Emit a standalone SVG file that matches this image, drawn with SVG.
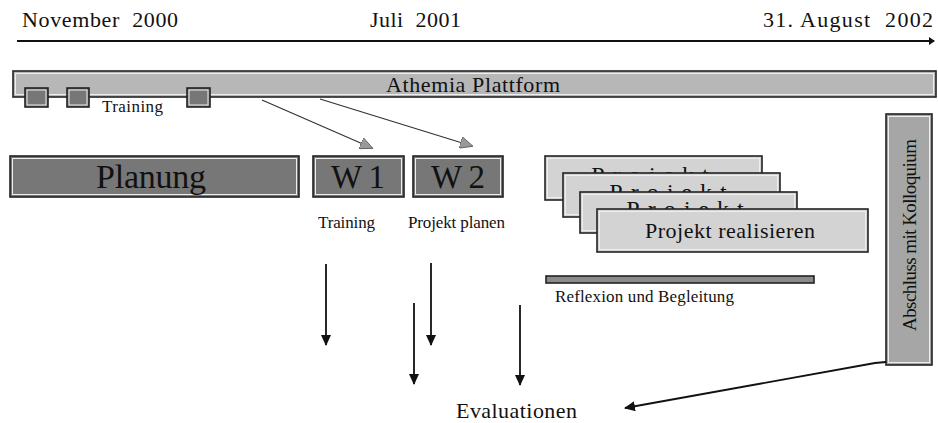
<svg xmlns="http://www.w3.org/2000/svg" width="938" height="423" viewBox="0 0 938 423">
<style>
text{font-family:"Liberation Serif","Times New Roman",serif;fill:#111}
.o{stroke:#222;stroke-width:1.6}
.i{fill:none;stroke:#eee;stroke-width:1}
.dk{fill:#777}
.md{fill:#a6a6a6}
.lt{fill:#d3d3d3}
.pl{fill:#b7b7b7}
.blk{stroke:#111;stroke-width:1.8;fill:none}
.gry{stroke:#333;stroke-width:1.2;fill:none}
</style>
<defs>
<marker id="ab" markerWidth="12" markerHeight="10" refX="10" refY="5" orient="auto" markerUnits="userSpaceOnUse">
<path d="M0,0 L11,5 L0,10 Z" fill="#111"/>
</marker>
<marker id="ag" markerWidth="14" markerHeight="12" refX="12" refY="6" orient="auto" markerUnits="userSpaceOnUse">
<path d="M0,0 L13,6 L0,12 Z" fill="#999" stroke="#555" stroke-width="0.8"/>
</marker>
<marker id="at" markerWidth="6" markerHeight="8" refX="5" refY="4" orient="auto" markerUnits="userSpaceOnUse">
<path d="M0,0 L6,4 L0,8 Z" fill="#111"/>
</marker>
</defs>

<g id="timeline">
<line x1="17" y1="41" x2="934" y2="41" stroke="#111" stroke-width="1.8" marker-end="url(#at)"/>
<text x="22" y="27" font-size="22" textLength="156" xml:space="preserve">November  2000</text>
<text x="370" y="27" font-size="22" textLength="91" xml:space="preserve">Juli  2001</text>
<text x="763" y="27" font-size="22" textLength="170" xml:space="preserve">31. August  2002</text>
</g>

<g id="plattform">
<rect class="o pl" x="13" y="71" width="923" height="26"/>
<rect class="i" x="15.5" y="73.5" width="918" height="21"/>
<text x="473" y="92" font-size="22" text-anchor="middle" textLength="174">Athemia Plattform</text>
</g>

<g id="training-top">
<rect class="o dk" x="25" y="88" width="23" height="19"/>
<rect class="i" x="27" y="90" width="19" height="15"/>
<rect class="o dk" x="67" y="88" width="22" height="19"/>
<rect class="i" x="69" y="90" width="18" height="15"/>
<rect class="o dk" x="187" y="88" width="23" height="19"/>
<rect class="i" x="189" y="90" width="19" height="15"/>
<text x="102" y="112" font-size="17" textLength="61">Training</text>
</g>

<g id="planung">
<rect class="o dk" x="10" y="156" width="289" height="41"/>
<rect class="i" x="12.5" y="158.5" width="284" height="36"/>
<text x="151" y="188" font-size="34" text-anchor="middle" textLength="110">Planung</text>
</g>

<g id="w1">
<rect class="o dk" x="313" y="156" width="91" height="41"/>
<rect class="i" x="315.5" y="158.5" width="86" height="36"/>
<text x="358" y="188" font-size="33" text-anchor="middle" textLength="54" xml:space="preserve">W 1</text>
<text x="318" y="228" font-size="17" textLength="57">Training</text>
</g>

<g id="w2">
<rect class="o dk" x="413" y="156" width="90" height="41"/>
<rect class="i" x="415.5" y="158.5" width="85" height="36"/>
<text x="458" y="188" font-size="33" text-anchor="middle" textLength="54" xml:space="preserve">W 2</text>
<text x="408" y="228" font-size="17" textLength="97">Projekt planen</text>
</g>

<g id="projekte">
<rect class="o lt" x="545" y="156" width="217" height="44"/>
<rect class="i" x="547.5" y="158.5" width="212" height="39"/>
<text x="654" y="183" font-size="24" text-anchor="middle" letter-spacing="8">Projekt</text>
<rect class="o lt" x="563" y="173" width="217" height="44"/>
<rect class="i" x="565.5" y="175.5" width="212" height="39"/>
<text x="672" y="200" font-size="24" text-anchor="middle" letter-spacing="8">Projekt</text>
<rect class="o lt" x="580" y="192" width="217" height="41"/>
<rect class="i" x="582.5" y="194.5" width="212" height="36"/>
<text x="689" y="217" font-size="24" text-anchor="middle" letter-spacing="8">Projekt</text>
<rect class="o lt" x="597" y="209" width="271" height="43"/>
<rect class="i" x="599.5" y="211.5" width="266" height="38"/>
<text x="730" y="238" font-size="22" text-anchor="middle" textLength="170">Projekt realisieren</text>
</g>

<g id="reflexion">
<rect class="o" x="546" y="276" width="268" height="7" fill="#8a8a8a"/>
<text x="555" y="302" font-size="17" textLength="179">Reflexion und Begleitung</text>
</g>

<g id="abschluss">
<rect class="o md" x="886" y="114" width="46" height="251"/>
<rect class="i" x="888.5" y="116.5" width="41" height="246"/>
<text transform="translate(916,235) rotate(-90)" font-size="19" text-anchor="middle" textLength="192">Abschluss mit Kolloquium</text>
</g>

<g id="evaluationen">
<text x="456" y="418" font-size="22" textLength="121">Evaluationen</text>
</g>

<g id="connectors">
<line class="gry" x1="262" y1="100" x2="372" y2="148" marker-end="url(#ag)"/>
<line class="gry" x1="320" y1="99" x2="472" y2="146" marker-end="url(#ag)"/>
<line class="blk" x1="326" y1="264" x2="326" y2="345" marker-end="url(#ab)"/>
<line class="blk" x1="431" y1="263" x2="431" y2="345" marker-end="url(#ab)"/>
<line class="blk" x1="414" y1="303" x2="414" y2="384" marker-end="url(#ab)"/>
<line class="blk" x1="520" y1="305" x2="520" y2="385" marker-end="url(#ab)"/>
<path class="blk" d="M886,362 L875,363 L625,408" stroke-width="1.4" marker-end="url(#ab)"/>
</g>
</svg>
